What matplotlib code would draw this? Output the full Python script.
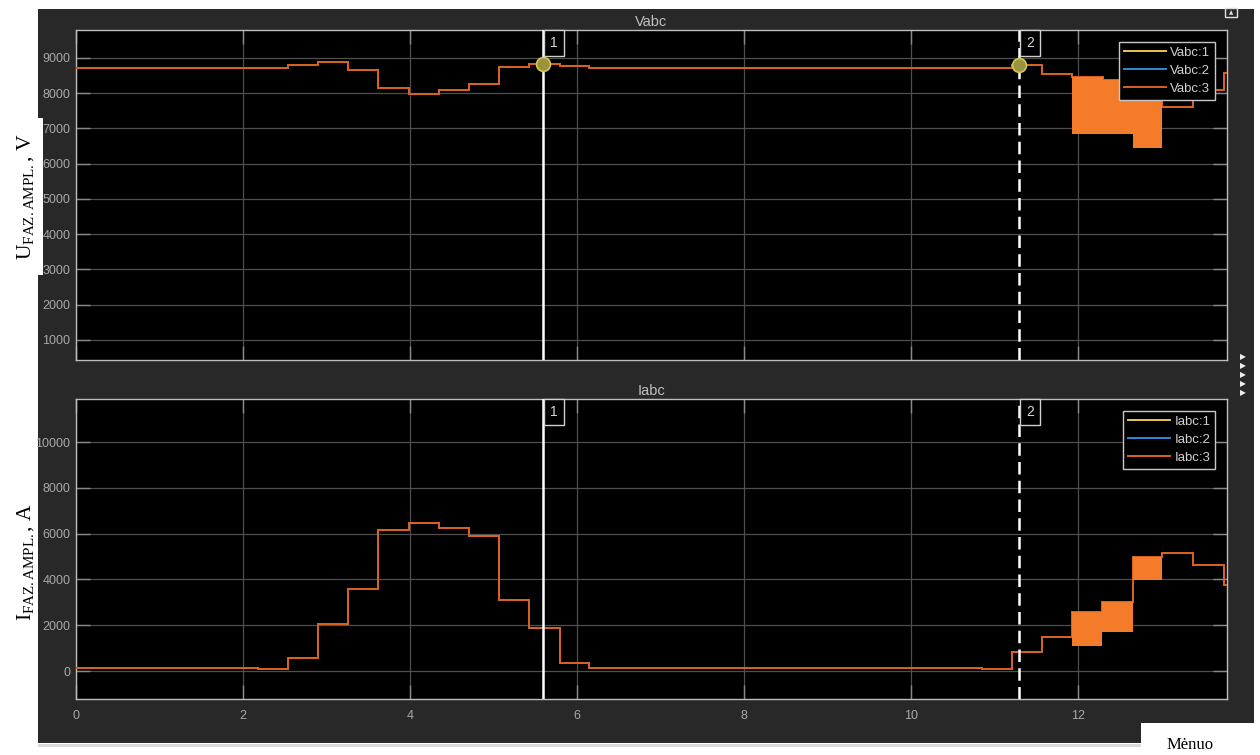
import numpy as np
import matplotlib
matplotlib.use('Agg')
import matplotlib.pyplot as plt
from matplotlib.patches import Rectangle

# ---- signal data (amplitude envelopes, s) ----
t_end = 13.78

v_t = [0, 2.535, 2.894, 3.254, 3.613, 3.988, 4.34, 4.70, 5.06, 5.425, 5.79, 6.147,
       11.2, 11.56, 11.92, 12.30, 12.65, 13.0, 13.37, 13.74, 13.78]
v_lvl = [8700, 8793, 8870, 8643, 8133, 7980, 8093, 8246, 8736, 8835, 8773, 8700,
         8800, 8530, 8462, 8368, 7800, 7612, 8085, 8558, 8558]
v_band_t = [11.92, 12.30, 12.65, 13.0]
v_band_hi = [8462, 8368, 7800, 7800]
v_band_lo = [6830, 6830, 6430, 6430]

i_t = [0, 2.18, 2.535, 2.894, 3.254, 3.613, 3.988, 4.34, 4.70, 5.06, 5.425, 5.79, 6.147,
       10.85, 11.2, 11.56, 11.92, 12.28, 12.65, 13.0, 13.37, 13.74, 13.78]
i_lvl = [120, 75, 555, 2040, 3570, 6150, 6460, 6250, 5900, 3100, 1880, 350, 120,
         75, 843, 1500, 2590, 3030, 4980, 5150, 4630, 3760, 3760]
i_band_t = [11.92, 12.28, 12.65, 13.0]
i_band_hi = [2590, 3030, 4980, 4980]
i_band_lo = [1100, 1716, 3970, 3970]

cursors = [5.59, 11.29]
cursor_names = ['1', '2']

x_ticks = [0, 2, 4, 6, 8, 10, 12]
v_ticks = [1000, 2000, 3000, 4000, 5000, 6000, 7000, 8000, 9000]
i_ticks = [0, 2000, 4000, 6000, 8000, 10000]

phase_colors = ['#E6C84A', '#2E8BD8', '#DD601E']
band_color = '#F47B2A'

W, H = 1260, 755
plt.rcParams['font.family'] = ['Liberation Sans', 'DejaVu Sans']
plt.rcParams['mathtext.fontset'] = 'custom'
plt.rcParams['mathtext.rm'] = 'Liberation Serif'
plt.rcParams['mathtext.it'] = 'Liberation Serif:italic'

fig = plt.figure(figsize=(W / 100, H / 100), dpi=100)
fig.patch.set_facecolor('white')

# scope window background
fig.add_artist(Rectangle((38 / W, 1 - 743 / H), (1254 - 38) / W, (743 - 9) / H,
                         transform=fig.transFigure, fc='#282828', ec='none', zorder=0))
fig.add_artist(Rectangle((38 / W, 1 - 747 / H), (1254 - 38) / W, 3 / H,
                         transform=fig.transFigure, fc='#d9d9d9', ec='none', zorder=0))

ax1 = fig.add_axes([76 / W, 1 - 360 / H, (1227 - 76) / W, 330 / H])
ax2 = fig.add_axes([76 / W, 1 - 699 / H, (1227 - 76) / W, 300 / H])


def level_at(ts, lv, x):
    return lv[np.searchsorted(ts, x, side='right') - 1]


def draw_panel(ax, ts, lv, bt, bhi, blo, name, ticks, ylim):
    ax.set_facecolor('black')
    for k, c in enumerate(phase_colors):
        ax.plot(ts, lv, drawstyle='steps-post', color=c, lw=1.4,
                label=f'{name}:{k + 1}', zorder=3 + k)
        ax.fill_between(bt, blo, bhi, step='post',
                        color=band_color if k == 2 else c, lw=0, zorder=3 + k)
    ax.set_xlim(0, t_end)
    ax.set_ylim(*ylim)
    ax.set_xticks(x_ticks)
    ax.set_yticks(ticks)
    ax.grid(True, color='#4f4f4f', lw=0.9)
    ax.set_axisbelow(True)
    for s in ax.spines.values():
        s.set_color('#bdbdbd')
        s.set_linewidth(1)
    ax.tick_params(direction='in', length=10, width=1, color='#8a8a8a',
                   labelcolor='#a8a8a8', labelsize=9, top=True, right=True, pad=4)
    ax.tick_params(axis='x', pad=8)
    ax.set_title(name, color='#c0c0c0', fontsize=10.5, pad=3)

    for c, nm in zip(cursors, cursor_names):
        ax.axvline(c, color='white', lw=1.8, ls='-' if nm == '1' else (0, (5, 2.5)), zorder=10)
        ax.annotate(nm, xy=(c, 1), xycoords=('data', 'axes fraction'),
                    xytext=(7, -6), textcoords='offset pixels', ha='left', va='top',
                    color='#d8d8d8', fontsize=10, zorder=11,
                    bbox=dict(boxstyle='square,pad=0.45', fc='black', ec='#d0d0d0', lw=1))

    leg = ax.legend(loc='upper right', fontsize=9.5, frameon=True, fancybox=False,
                    framealpha=1, handlelength=3.2, handletextpad=0.35, labelspacing=0.45,
                    borderpad=0.35, borderaxespad=0.9)
    leg.get_frame().set_facecolor('black')
    leg.get_frame().set_edgecolor('#c8c8c8')
    leg.get_frame().set_linewidth(1)
    leg.set_zorder(12)
    for txt in leg.get_texts():
        txt.set_color('#d0d0d0')


draw_panel(ax1, v_t, v_lvl, v_band_t, v_band_hi, v_band_lo, 'Vabc', v_ticks, (430, 9790))
draw_panel(ax2, i_t, i_lvl, i_band_t, i_band_hi, i_band_lo, 'Iabc', i_ticks, (-1220, 11880))
ax1.tick_params(labelbottom=False)

# cursor intersection markers on the voltage trace
for c in cursors:
    ax1.plot([c], [level_at(v_t, v_lvl, c)], 'o', ms=10, mfc='#9a9440', mec='#d0c850',
             mew=1.2, zorder=13)

# axis labels on white patches
fig.add_artist(Rectangle((0, 1 - 275 / H), 43 / W, 157 / H, transform=fig.transFigure,
                         fc='white', ec='none', zorder=1))
fig.text(26 / W, 1 - 197 / H, r'$\mathrm{U_{FAZ.AMPL.}}$, V', rotation=90,
         ha='center', va='center', fontsize=15.5, family='Liberation Serif', zorder=2)
fig.text(26 / W, 1 - 562 / H, r'$\mathrm{I_{FAZ.AMPL.}}$, A', rotation=90,
         ha='center', va='center', fontsize=15.5, family='Liberation Serif', zorder=2)

# small window controls
fig.add_artist(Rectangle((1225 / W, 1 - 17 / H), 12 / W, 9 / H, transform=fig.transFigure,
                         fc='none', ec='#e0e0e0', lw=1, zorder=2))
fig.text(1231 / W, 1 - 13 / H, '▲', fontsize=4, color='#e0e0e0', ha='center', va='center',
         family='DejaVu Sans')
for yy in [357, 366, 375, 384, 393]:
    fig.text(1243 / W, 1 - yy / H, '▶', fontsize=5.5, color='#f0f0f0', ha='center',
             va='center', family='DejaVu Sans')

fig.add_artist(Rectangle((1141 / W, 0), (W - 1141) / W, 32 / H, transform=fig.transFigure,
                         fc='white', ec='none', zorder=3))
fig.text(1190 / W, 1 - 745 / H, 'Mėnuo', fontsize=12, family='Liberation Serif',
         ha='center', va='center', zorder=4)

fig.savefig('out.png', dpi=100, facecolor='white')
